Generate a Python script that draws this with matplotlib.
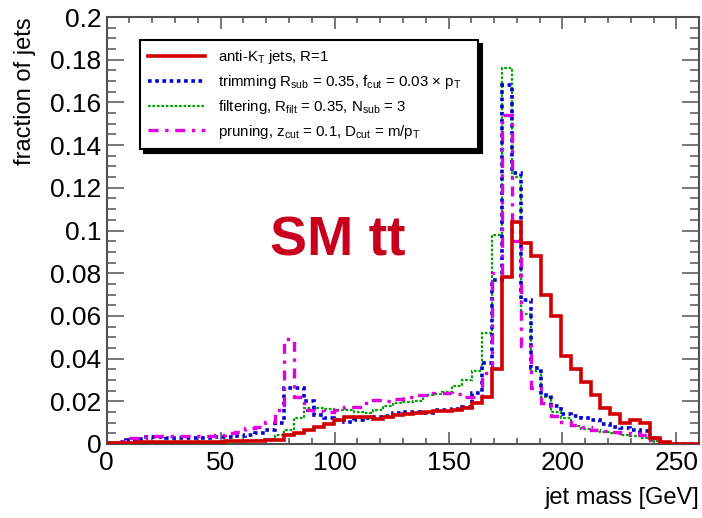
import numpy as np
from matplotlib import pyplot as plt

plt.rcParams['font.family'] = ['Liberation Sans', 'DejaVu Sans']
plt.rcParams['mathtext.fontset'] = 'custom'
plt.rcParams['mathtext.rm'] = 'Liberation Sans'
plt.rcParams['mathtext.it'] = 'Liberation Sans:italic'

# 60 bins between 0 and 260 GeV
mass_lo, mass_hi, nbins = 0, 260, 60

antikt = [0.0005, 0.0005, 0.0005, 0.0007, 0.0007, 0.0008, 0.0008, 0.0008, 0.0009, 0.001,
          0.001, 0.001, 0.0012, 0.0012, 0.0013, 0.0015, 0.0017, 0.002,
          0.004, 0.005, 0.0065, 0.008, 0.0095, 0.011, 0.0125, 0.0125, 0.0125, 0.0118, 0.0125, 0.0135,
          0.014, 0.0147, 0.015, 0.0153, 0.0155, 0.016, 0.0167, 0.019, 0.022, 0.035,
          0.078, 0.104, 0.094, 0.088, 0.070, 0.060, 0.041, 0.035, 0.029, 0.023,
          0.017, 0.014, 0.0097, 0.011, 0.0097, 0.003, 0.001, 0, 0, 0]

trimming = [0.0005, 0.001, 0.002, 0.0025, 0.0033, 0.0033, 0.003, 0.003, 0.003, 0.0028,
            0.003, 0.0033, 0.0033, 0.0035, 0.004, 0.005, 0.0065, 0.01,
            0.026, 0.026, 0.020, 0.0136, 0.012, 0.011, 0.0105, 0.011, 0.012, 0.0125, 0.013, 0.0145,
            0.015, 0.015, 0.0145, 0.016, 0.016, 0.0165, 0.0175, 0.024, 0.038, 0.077,
            0.168, 0.127, 0.0675, 0.0356, 0.023, 0.018, 0.014, 0.013, 0.012, 0.011,
            0.0095, 0.008, 0.0075, 0.0065, 0.006, 0.003, 0.0005, 0, 0, 0]

filtering = [0.0002, 0.0003, 0.0003, 0.0004, 0.0005, 0.0005, 0.0005, 0.0006, 0.0006, 0.0007,
             0.0008, 0.0008, 0.001, 0.001, 0.0015, 0.002, 0.0025, 0.004,
             0.0065, 0.012, 0.017, 0.017, 0.0165, 0.016, 0.016, 0.015, 0.0145, 0.016, 0.018, 0.019,
             0.0195, 0.020, 0.023, 0.0235, 0.0245, 0.027, 0.030, 0.034, 0.052, 0.098,
             0.176, 0.125, 0.061, 0.034, 0.022, 0.015, 0.012, 0.0085, 0.007, 0.0065,
             0.0055, 0.005, 0.004, 0.0035, 0.003, 0.0015, 0, 0, 0, 0]

pruning = [0.0005, 0.0015, 0.0028, 0.003, 0.0037, 0.0037, 0.0035, 0.0035, 0.0035, 0.0035,
           0.0038, 0.004, 0.005, 0.0058, 0.0075, 0.008, 0.0105, 0.016,
           0.049, 0.022, 0.016, 0.0155, 0.015, 0.016, 0.0175, 0.0175, 0.019, 0.0205, 0.020, 0.021,
           0.022, 0.023, 0.023, 0.024, 0.024, 0.0235, 0.022, 0.022, 0.033, 0.080,
           0.154, 0.095, 0.046, 0.026, 0.019, 0.013, 0.0105, 0.009, 0.008, 0.0065,
           0.006, 0.0055, 0.005, 0.0045, 0.004, 0.002, 0.0003, 0, 0, 0]

labels = [r'anti-K$_\mathregular{T}$ jets, R=1',
          r'trimming R$_\mathregular{sub}$ = 0.35, f$_\mathregular{cut}$ = 0.03 × p$_\mathregular{T}$',
          r'filtering, R$_\mathregular{filt}$ = 0.35, N$_\mathregular{sub}$ = 3',
          r'pruning, z$_\mathregular{cut}$ = 0.1, D$_\mathregular{cut}$ = m/p$_\mathregular{T}$']

edges = np.linspace(mass_lo, mass_hi, nbins + 1)

fig = plt.figure(figsize=(7.02, 5.18), dpi=100)
ax = fig.add_axes([0.152, 0.143, 0.844, 0.824])

h_filt = ax.stairs(filtering, edges, baseline=None, color='#00a000', lw=1.6,
                   linestyle=(0, (1.2, 0.8)), zorder=2)
h_trim = ax.stairs(trimming, edges, baseline=None, color='#0000d0', lw=2.6,
                   linestyle=(0, (1, 1)), zorder=3)
h_prun = ax.stairs(pruning, edges, baseline=None, color='#e000e0', lw=2.4,
                   linestyle=(0, (3, 2, 1, 2)), zorder=4)
h_akt = ax.stairs(antikt, edges, baseline=None, color='#d00000', lw=2.6, zorder=5)

ax.set_xlim(0, 260)
ax.set_ylim(0, 0.2)
ax.xaxis.set_major_locator(plt.MultipleLocator(50))
ax.xaxis.set_minor_locator(plt.MultipleLocator(10))
ax.yaxis.set_major_locator(plt.MultipleLocator(0.02))
ax.yaxis.set_minor_locator(plt.MultipleLocator(0.005))
ax.yaxis.set_major_formatter(plt.FuncFormatter(lambda v, p: '%g' % round(v, 3)))

for s in ax.spines.values():
    s.set_color('#505050')
    s.set_linewidth(1.5)
ax.tick_params(which='both', direction='in', top=True, right=True, color='#606060', width=1.2,
               labelsize=19)
ax.tick_params(axis='y', which='major', length=12, pad=4)
ax.tick_params(axis='y', which='minor', length=6.5)
ax.tick_params(axis='x', which='major', length=8.5, pad=5)
ax.tick_params(axis='x', which='minor', length=4.3)

ax.set_xlabel('jet mass [GeV]', loc='right', fontsize=17, labelpad=9)
ax.set_ylabel('fraction of jets', loc='top', fontsize=17, labelpad=10)

ax.text(0.39, 0.475, 'SM tt', transform=ax.transAxes, ha='center', va='center',
        fontsize=40, fontweight='bold', color='#c8001e')

leg = ax.legend([h_akt, h_trim, h_filt, h_prun], labels, loc='upper left',
                bbox_to_anchor=(0.056, 0.677, 0.571, 0.269), mode='expand', borderaxespad=0,
                fontsize=10.8, frameon=True, fancybox=False, edgecolor='black',
                framealpha=1, handlelength=3.8, handletextpad=0.85, labelspacing=0.45,
                borderpad=0.55, shadow={'ox': 3, 'oy': -3, 'color': 'black', 'alpha': 1})
leg.get_frame().set_linewidth(1.5)

fig.savefig('out.png', dpi=100)
